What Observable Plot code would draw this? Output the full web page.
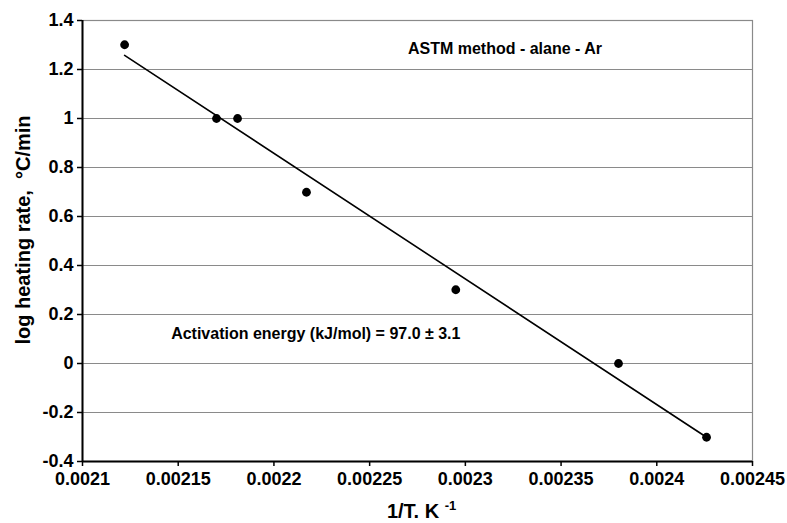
<!DOCTYPE html>
<html>
<head>
<meta charset="utf-8">
<script src="https://cdn.jsdelivr.net/npm/d3@7"></script>
<script src="https://cdn.jsdelivr.net/npm/@observablehq/plot@0.6"></script>
<style>
  html, body { margin: 0; padding: 0; background: #fff; }
  #chart svg { display: block; }
</style>
</head>
<body>
<div id="chart"></div>
<script>
// Inverse temperature (1/K) and log10 of heating rate (°C/min)
const invT = [0.002122, 0.002170, 0.002181, 0.002217, 0.002295, 0.002380, 0.002426];
const logRate = [1.301, 1.0, 1.0, 0.699, 0.301, 0.0, -0.301];

const xTicks = [0.0021, 0.00215, 0.0022, 0.00225, 0.0023, 0.00235, 0.0024, 0.00245];
const yTicks = [-0.4, -0.2, 0, 0.2, 0.4, 0.6, 0.8, 1, 1.2, 1.4];

const notes = [
  {x: 0.002270, y: 1.285, text: "ASTM method - alane - Ar"},
  {x: 0.0021463, y: 0.12, text: "Activation energy (kJ/mol) = 97.0 ± 3.1"}
];

const points = invT.map((x, i) => ({x, y: logRate[i]}));
const font = "'Liberation Sans', Arial, Helvetica, sans-serif";

const chart = Plot.plot({
  width: 787,
  height: 523,
  marginLeft: 82,
  marginRight: 35,
  marginTop: 20,
  marginBottom: 62,
  style: {fontFamily: font, fontWeight: "bold", fontSize: "18px", color: "#000", background: "#fff"},
  x: {domain: [0.0021, 0.00245]},
  y: {domain: [-0.4, 1.4]},
  marks: [
    Plot.gridY(yTicks, {stroke: "#8a8a8a", strokeOpacity: 1, strokeWidth: 1.2}),
    Plot.frame({stroke: "#8a8a8a", strokeWidth: 1.2}),
    Plot.ruleX([0.0021], {stroke: "#000", strokeWidth: 2}),
    Plot.ruleY([-0.4], {stroke: "#000", strokeWidth: 2}),
    Plot.axisY({ticks: yTicks, tickSize: 5, tickPadding: 4, strokeWidth: 1.5,
      tickFormat: d => String(+d.toFixed(1)), label: null, fontSize: 18}),
    Plot.axisX({ticks: xTicks, tickSize: 5, tickPadding: 6, strokeWidth: 1.5,
      tickFormat: d => String(+d.toFixed(5)), label: null, fontSize: 18}),
    Plot.linearRegressionY(points, {x: "x", y: "y", ci: 0, stroke: "#000", strokeWidth: 1.6}),
    Plot.dot(points, {x: "x", y: "y", r: 4.4, fill: "#000", stroke: "none"}),
    Plot.text(notes, {x: "x", y: "y", text: "text", textAnchor: "start", fontSize: 16, fill: "#000"}),
    // axis titles
    Plot.text(["log heating rate,  °C/min"], {frameAnchor: "left", textAnchor: "middle", lineAnchor: "middle",
      dx: -59, dy: -11, rotate: -90, fontSize: 20, fill: "#000"}),
    Plot.text(["1/T. K"], {frameAnchor: "bottom", textAnchor: "middle", lineAnchor: "middle",
      dy: 50, dx: -4.5, fontSize: 20, fill: "#000"}),
    Plot.text(["-1"], {frameAnchor: "bottom", textAnchor: "middle", lineAnchor: "middle",
      dy: 44, dx: 33, fontSize: 13, fill: "#000"})
  ]
});

document.getElementById("chart").appendChild(chart);
</script>
</body>
</html>
